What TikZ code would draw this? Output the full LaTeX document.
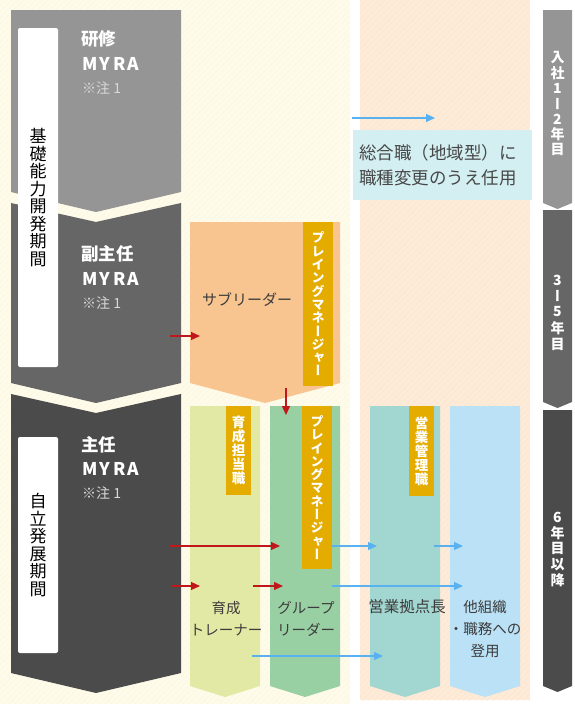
\documentclass[tikz,border=0pt]{standalone}
\usepackage{fontspec}
\setmainfont{Noto Sans CJK JP}
\newfontfamily\vfont[RawFeature=+vert]{Noto Sans CJK JP}
\usetikzlibrary{arrows.meta, positioning, patterns.meta}
\definecolor{creambg}{HTML}{FEFBEA}
\definecolor{creamln}{HTML}{FAF4DC}
\definecolor{peachbg}{HTML}{FDEBD8}
\definecolor{peachln}{HTML}{FAE3CC}
\definecolor{stageA}{HTML}{959595}
\definecolor{stageB}{HTML}{666666}
\definecolor{stageC}{HTML}{4B4B4B}
\definecolor{subfill}{HTML}{F8C48F}
\definecolor{tagfill}{HTML}{E5AC00}
\definecolor{trainfill}{HTML}{E2E9A5}
\definecolor{groupfill}{HTML}{99D0A3}
\definecolor{basefill}{HTML}{A2D6D1}
\definecolor{otherfill}{HTML}{BAE1F6}
\definecolor{chgfill}{HTML}{D3EFF2}
\definecolor{redarr}{HTML}{C0171C}
\definecolor{bluearr}{HTML}{5AB1EF}
\definecolor{textdark}{HTML}{3C3C3C}

\begin{document}
\begin{tikzpicture}[
        x=1pt, y=-1pt,
        stage_txt/.style={
            anchor=west,
            inner sep=0pt,
            text=white,
            font=\bfseries\fontsize{17.5}{20}\selectfont
        },
        myra_txt/.style={
            stage_txt,
            font=\bfseries\fontsize{17.5}{20}\selectfont\addfontfeature{LetterSpace=14}
        },
        note_txt/.style={
            anchor=west,
            inner sep=0pt,
            text=white!85!black,
            font=\fontsize{14}{16}\selectfont
        },
        period_box/.style={
            rectangle,
            rounded corners=2pt,
            fill=white,
            minimum width=40pt,
            align=center,
            inner sep=0pt,
            text=black,
            font=\vfont\fontsize{17}{17.5}\selectfont
        },
        year_txt/.style={
            inner sep=0pt,
            text=white,
            font=\vfont\bfseries\fontsize{14}{15}\selectfont
        },
        tag_box/.style={
            rectangle,
            fill=tagfill,
            inner sep=0pt
        },
        tag_txt/.style={
            align=center,
            inner sep=0pt,
            text=white,
            font=\vfont\bfseries\fontsize{13}{13.3}\selectfont
        },
        post_txt/.style={
            align=center,
            inner sep=0pt,
            text=textdark,
            font=\fontsize{14.5}{22}\selectfont
        },
        red_arrow/.style={
            -{Triangle[length=9pt, width=8pt]},
            draw=redarr,
            line width=1.2pt
        },
        blue_arrow/.style={
            -{Triangle[length=9pt, width=8pt]},
            draw=bluearr,
            line width=1.2pt
        }
    ]

    \useasboundingbox (0,0) rectangle (575,704);

    % Background panels
    \fill[creambg] (0,0) rectangle (350,704);
    \fill[pattern={Lines[angle=45, distance=4pt, line width=0.5pt]}, pattern color=creamln] (0,0) rectangle (350,704);
    \fill[peachbg] (360,0) rectangle (530,700);
    \fill[pattern={Lines[angle=45, distance=4pt, line width=0.5pt]}, pattern color=peachln] (360,0) rectangle (530,700);

    % Stages (left)
    \fill[stageA] (11,10) -- (181,10) -- (181,192) -- (96,212) -- (11,192) -- cycle;
    \fill[stageB] (11,203) -- (96,222) -- (181,203) -- (181,383) -- (96,403) -- (11,383) -- cycle;
    \fill[stageC] (11,394) -- (96,413) -- (181,394) -- (181,673) -- (96,693) -- (11,673) -- cycle;

    \node[period_box, minimum height=339pt] (basic) at (38,197.5) {基\\礎\\能\\力\\開\\発\\期\\間};
    \node[period_box, minimum height=216pt] (indep) at (38,545) {自\\立\\発\\展\\期\\間};

    \node[stage_txt] (trainee) at (81,38.5) {研修};
    \node[myra_txt] (myra1) at (82,63.5) {MYRA};
    \node[note_txt] (note1) at (82,88) {※注 1};
    \node[stage_txt] (subchief) at (81,254) {副主任};
    \node[myra_txt] (myra2) at (82,278.5) {MYRA};
    \node[note_txt] (note2) at (82,303) {※注 1};
    \node[stage_txt] (chief) at (81,445) {主任};
    \node[myra_txt] (myra3) at (82,469) {MYRA};
    \node[note_txt] (note3) at (82,493.5) {※注 1};

    % Years (right)
    \fill[stageA] (543,10) -- (572,10) -- (572,203) -- (557.5,209) -- (543,203) -- cycle;
    \fill[stageB] (543,210) -- (572,210) -- (572,402) -- (557.5,408) -- (543,402) -- cycle;
    \fill[stageC] (543,410) -- (572,410) -- (572,686) -- (557.5,692) -- (543,686) -- cycle;
    \foreach \ch [count=\i] in {入,社,1,ー,2,年,目}
        \node[year_txt] (yA\i) at (557.5,{58+15.3*(\i-1)}) {\ch};
    \foreach \ch [count=\i] in {3,ー,5,年,目}
        \node[year_txt] (yB\i) at (557.5,{280+16*(\i-1)}) {\ch};
    \foreach \ch [count=\i] in {6,年,目,以,降}
        \node[year_txt] (yC\i) at (557.5,{517+15.7*(\i-1)}) {\ch};

    % Sub leader
    \fill[subfill] (190,222) -- (340,222) -- (340,383) -- (265,403) -- (190,383) -- cycle;
    \node[tag_box, minimum width=30pt, minimum height=164pt] (tagsub) at (318,304) {};
    \node[tag_txt] at (tagsub) {プ\\レ\\イ\\ン\\グ\\マ\\ネ\\ー\\ジ\\ャ\\ー};
    \node[post_txt, font=\fontsize{15}{22}\selectfont] (subleader) at (247,300) {サブリーダー};

    % Posts (bottom)
    \fill[trainfill] (190,406) -- (260,406) -- (260,686) -- (225,697) -- (190,686) -- cycle;
    \fill[groupfill] (270,406) -- (340,406) -- (340,686) -- (305,697) -- (270,686) -- cycle;
    \fill[basefill] (370,406) -- (440,406) -- (440,686) -- (405,697) -- (370,686) -- cycle;
    \fill[otherfill] (450,406) -- (520,406) -- (520,686) -- (485,697) -- (450,686) -- cycle;

    \node[tag_box, minimum width=25pt, minimum height=89pt] (tagtrain) at (238.5,450.5) {};
    \node[tag_txt, font=\vfont\bfseries\fontsize{13.5}{14}\selectfont] at (tagtrain) {育\\成\\担\\当\\職};
    \node[tag_box, minimum width=30pt, minimum height=163pt] (taggroup) at (317,487.5) {};
    \node[tag_txt] at (taggroup) {プ\\レ\\イ\\ン\\グ\\マ\\ネ\\ー\\ジ\\ャ\\ー};
    \node[tag_box, minimum width=25pt, minimum height=90pt] (tagbase) at (421.5,451) {};
    \node[tag_txt, font=\vfont\bfseries\fontsize{13.5}{14}\selectfont] at (tagbase) {営\\業\\管\\理\\職};

    \node[post_txt] (trainer) at (226,618.5) {育成\\トレーナー};
    \node[post_txt] (groupleader) at (306,618.5) {グループ\\リーダー};
    \node[post_txt, font=\fontsize{15.5}{22}\selectfont] (basehead) at (407,607) {営業拠点長};
    \node[post_txt] (otherorg) at (485,629.5) {他組織\\・職務への\\登用};

    % Change of track
    \node[rectangle, fill=chgfill, minimum width=179pt, minimum height=70pt, inner sep=0pt] (change) at (442.5,165) {};
    \node[post_txt, align=left, text=black!72, font=\fontsize{17.5}{25}\selectfont, anchor=west] (changetxt) at (359,165.5) {総合職（地域型）に\\職種変更のうえ任用};

    % Arrow ends
    \coordinate (rA1) at (170,336); \coordinate (rA2) at (200,336);
    \coordinate (rB1) at (286,388); \coordinate (rB2) at (286,415);
    \coordinate (rC1) at (170,546); \coordinate (rC2) at (280,546);
    \coordinate (rD1) at (172,586); \coordinate (rD2) at (200,586);
    \coordinate (rE1) at (253,586); \coordinate (rE2) at (283,586);
    \coordinate (bA1) at (352,118); \coordinate (bA2) at (435,118);
    \coordinate (bB1) at (332,546); \coordinate (bB2) at (377,546);
    \coordinate (bC1) at (434,546); \coordinate (bC2) at (463,546);
    \coordinate (bD1) at (332,586); \coordinate (bD2) at (463,586);
    \coordinate (bE1) at (252,656); \coordinate (bE2) at (383,656);

    % Promotion arrows
    \draw[red_arrow] (rA1) -- (rA2);
    \draw[red_arrow] (rB1) -- (rB2);
    \draw[red_arrow] (rC1) -- (rC2);
    \draw[red_arrow] (rD1) -- (rD2);
    \draw[red_arrow] (rE1) -- (rE2);

    % Transfer arrows
    \draw[blue_arrow] (bA1) -- (bA2);
    \draw[blue_arrow] (bB1) -- (bB2);
    \draw[blue_arrow] (bC1) -- (bC2);
    \draw[blue_arrow] (bD1) -- (bD2);
    \draw[blue_arrow] (bE1) -- (bE2);

\end{tikzpicture}
\end{document}
